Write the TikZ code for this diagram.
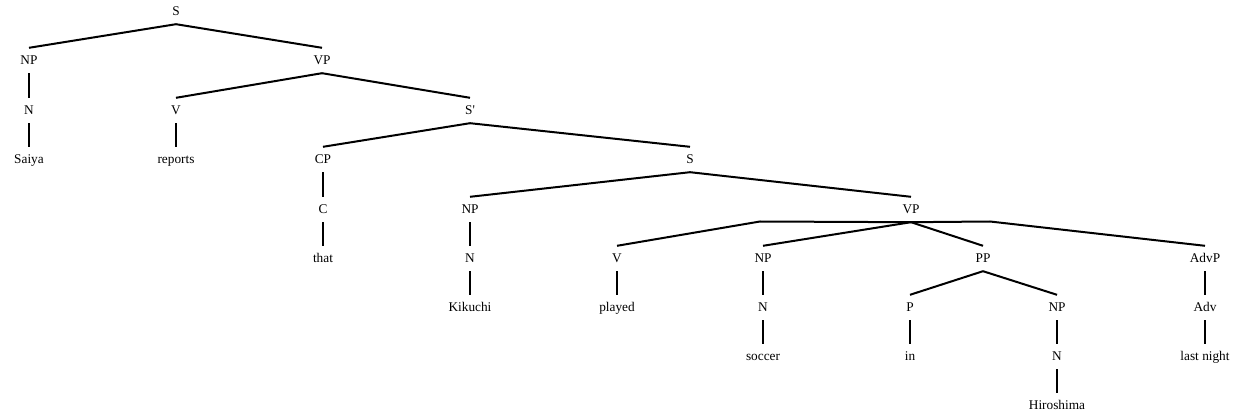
\documentclass[tikz,border=0pt]{standalone}
\usepackage{fontspec}
\setmainfont{Liberation Serif}
\begin{document}
\begin{tikzpicture}[x=1pt,y=-1pt,
  lbl/.style={anchor=base,font=\fontsize{13.3}{15}\selectfont,text height=11pt,text depth=3pt,inner xsep=0pt,inner ysep=5.5pt},
  br/.style={line width=2pt}]
\useasboundingbox (0,0) rectangle (1238,419);
% row baselines: center + 4.5
\def\ra{15.5}\def\rb{64.5}\def\rc{114.5}\def\rd{163.5}\def\re{213.5}\def\rf{262.5}\def\rg{311.5}\def\rh{360.5}\def\ri{409.5}
\node[lbl] (s0) at (176,\ra) {S};
\node[lbl] (np1) at (29,\rb) {NP};
\node[lbl] (vp1) at (322,\rb) {VP};
\node[lbl] (n1) at (29,\rc) {N};
\node[lbl] (v1) at (176,\rc) {V};
\node[lbl] (saiya) at (29,\rd) {Saiya};
\node[lbl] (reports) at (176,\rd) {reports};
\node[lbl] (sbar) at (470,\rc) {S\textquotesingle};
\node[lbl] (cp) at (323,\rd) {CP};
\node[lbl] (c) at (323,\re) {C};
\node[lbl] (that) at (323,\rf) {that};
\node[lbl] (s2) at (690,\rd) {S};
\node[lbl] (np2) at (470,\re) {NP};
\node[lbl] (n2) at (470,\rf) {N};
\node[lbl] (kikuchi) at (470,\rg) {Kikuchi};
\node[lbl] (vp2) at (911,\re) {VP};
\node[lbl] (v2) at (617,\rf) {V};
\node[lbl] (played) at (617,\rg) {played};
\node[lbl] (np3) at (763,\rf) {NP};
\node[lbl] (n3) at (763,\rg) {N};
\node[lbl] (soccer) at (763,\rh) {soccer};
\node[lbl] (pp) at (983,\rf) {PP};
\node[lbl] (p) at (910,\rg) {P};
\node[lbl] (in) at (910,\rh) {in};
\node[lbl] (np4) at (1057,\rg) {NP};
\node[lbl] (n4) at (1057,\rh) {N};
\node[lbl] (hiro) at (1057,\ri) {Hiroshima};
\node[lbl] (advp) at (1205,\rf) {AdvP};
\node[lbl] (adv) at (1205,\rg) {Adv};
\node[lbl] (lastnight) at (1205,\rh) {last night};
\coordinate (vpl) at (760,221.5);
\coordinate (vpr) at (990,221.5);
\draw[br] (s0.south) -- (np1.north);
\draw[br] (s0.south) -- (vp1.north);
\draw[br] (np1.south) -- (n1.north);
\draw[br] (n1.south) -- (saiya.north);
\draw[br] (vp1.south) -- (v1.north);
\draw[br] (v1.south) -- (reports.north);
\draw[br] (vp1.south) -- (sbar.north);
\draw[br] (sbar.south) -- (cp.north);
\draw[br] (cp.south) -- (c.north);
\draw[br] (c.south) -- (that.north);
\draw[br] (sbar.south) -- (s2.north);
\draw[br] (s2.south) -- (np2.north);
\draw[br] (np2.south) -- (n2.north);
\draw[br] (n2.south) -- (kikuchi.north);
\draw[br] (s2.south) -- (vp2.north);
\draw[br] (vp2.south) -- (vpl) -- (v2.north);
\draw[br] (vp2.south) -- (vpr) -- (advp.north);
\draw[br] (v2.south) -- (played.north);
\draw[br] (vp2.south) -- (np3.north);
\draw[br] (np3.south) -- (n3.north);
\draw[br] (n3.south) -- (soccer.north);
\draw[br] (vp2.south) -- (pp.north);
\draw[br] (pp.south) -- (p.north);
\draw[br] (p.south) -- (in.north);
\draw[br] (pp.south) -- (np4.north);
\draw[br] (np4.south) -- (n4.north);
\draw[br] (n4.south) -- (hiro.north);
\draw[br] (advp.south) -- (adv.north);
\draw[br] (adv.south) -- (lastnight.north);
\end{tikzpicture}
\end{document}
